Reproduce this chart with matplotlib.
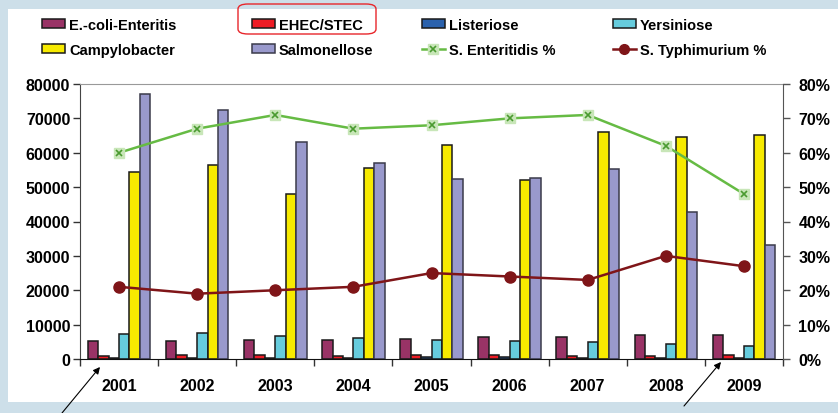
import matplotlib
matplotlib.use("Agg")
import matplotlib.pyplot as plt
import numpy as np
from matplotlib.patches import Rectangle, FancyBboxPatch, Patch
from matplotlib.lines import Line2D
from matplotlib.ticker import PercentFormatter, MultipleLocator

plt.rcParams['font.family'] = ['Liberation Sans', 'DejaVu Sans']
plt.rcParams['font.weight'] = 'bold'

years = ['2001', '2002', '2003', '2004', '2005', '2006', '2007', '2008', '2009']
ecoli = [5200, 5200, 5400, 5400, 5700, 6400, 6400, 6900, 6900]
ehec = [800, 1150, 1100, 900, 1200, 1200, 850, 900, 1200]
listeriose = [216, 240, 256, 296, 510, 508, 356, 307, 394]
yersiniose = [7200, 7500, 6700, 6100, 5400, 5200, 4900, 4300, 3800]
campylobacter = [54500, 56300, 47900, 55700, 62200, 52000, 65900, 64700, 65300]
salmonellose = [77200, 72300, 63000, 56900, 52300, 52700, 55300, 42800, 33100]
enteritidis_pct = [60, 67, 71, 67, 68, 70, 71, 62, 48]
typhimurium_pct = [21, 19, 20, 21, 25, 24, 23, 30, 27]

bar_series = [
    ('E.-coli-Enteritis', ecoli, '#993366', '#1a1a1a'),
    ('EHEC/STEC', ehec, '#ee1c25', '#1a1a1a'),
    ('Listeriose', listeriose, '#2b62ad', '#1a1a1a'),
    ('Yersiniose', yersiniose, '#66ccdd', '#1a1a1a'),
    ('Campylobacter', campylobacter, '#f7ea00', '#1a1a1a'),
    ('Salmonellose', salmonellose, '#9999cc', '#3a3a4a'),
]

W, H = 838, 414
fig = plt.figure(figsize=(W / 100, H / 100), dpi=100)
fig.patch.set_facecolor('#cddfe9')
fig.patches.append(Rectangle((8 / W, 11 / H), 1 - 8 / W, (403 - 10) / H,
                             transform=fig.transFigure, facecolor='white',
                             edgecolor='none', zorder=-5))

ax = fig.add_axes([80 / W, (H - 360) / H, (783 - 80) / W, (360 - 85) / H])
ax.set_facecolor('none')
x = np.arange(len(years))
bw = 0.8 / 6
handles = {}
for i, (name, vals, fc, ec) in enumerate(bar_series):
    ax.bar(x + (i - 2.5) * bw, vals, width=bw, color=fc, edgecolor=ec,
           linewidth=1.1, label=name, zorder=2)
    handles[name] = Patch(facecolor=fc, edgecolor=ec, linewidth=1.1)

ax.set_xlim(-0.5, len(years) - 0.5)
ax.set_ylim(0, 80000)
ax.yaxis.set_major_locator(MultipleLocator(10000))
ax.set_xticks(x)
ax.set_xticklabels(years)
ax.set_xticks(np.arange(-0.5, len(years), 1.0), minor=True)
ax.tick_params(axis='x', which='major', length=0, pad=14, labelsize=11.5)
ax.tick_params(axis='x', which='minor', length=5, width=1, color='#333333', direction='out')
ax.tick_params(axis='y', length=5, width=1, color='#333333', pad=2, labelsize=11.5)
for lab in ax.get_yticklabels() + ax.get_xticklabels():
    lab.set_fontweight('bold')
ax.spines['top'].set_color('#999999')
ax.spines['left'].set_color('#444444')
ax.spines['bottom'].set_color('#111111')
ax.spines['right'].set_visible(False)

ax2 = ax.twinx()
ax2.set_ylim(0, 80)
ax2.yaxis.set_major_locator(MultipleLocator(10))
ax2.yaxis.set_major_formatter(PercentFormatter(decimals=0))
ax2.tick_params(axis='y', length=5, width=1, color='#555555', pad=6, labelsize=11.5)
for lab in ax2.get_yticklabels():
    lab.set_fontweight('bold')
ax2.spines['right'].set_color('#555555')
ax2.spines['top'].set_visible(False)
ax2.spines['left'].set_visible(False)
ax2.spines['bottom'].set_visible(False)

green = '#66bb44'
ax2.plot(x, enteritidis_pct, color=green, linewidth=1.8, marker='s', markersize=7.5,
         markerfacecolor='#c8e6b8', markeredgecolor='#c8e6b8', zorder=3)
ax2.plot(x, enteritidis_pct, linestyle='none', marker='x', markersize=5,
         markeredgecolor='#4a9a30', markeredgewidth=1.2, zorder=4)
dark_red = '#7f1518'
ax2.plot(x, typhimurium_pct, color=dark_red, linewidth=1.8, marker='o', markersize=8,
         markerfacecolor=dark_red, markeredgecolor=dark_red, zorder=3)

handles['S. Enteritidis %'] = (Line2D([], [], color=green, linewidth=1.8, marker='s',
                                      markersize=7, markerfacecolor='#c8e6b8',
                                      markeredgecolor='#c8e6b8'),
                               Line2D([], [], linestyle='none', marker='x', markersize=4.5,
                                      markeredgecolor='#4a9a30', markeredgewidth=1.2))
handles['S. Typhimurium %'] = Line2D([], [], color=dark_red, linewidth=1.8, marker='o',
                                     markersize=7, markerfacecolor=dark_red,
                                     markeredgecolor=dark_red)

columns = [
    (42, ['E.-coli-Enteritis', 'Campylobacter']),
    (252, ['EHEC/STEC', 'Salmonellose']),
    (422, ['Listeriose', 'S. Enteritidis %']),
    (613, ['Yersiniose', 'S. Typhimurium %']),
]
for cx, names in columns:
    fig.legend([handles[n] for n in names], names, loc='upper left',
               bbox_to_anchor=(cx / W, (H - 19) / H), frameon=False,
               borderpad=0, borderaxespad=0, handlelength=1.55,
               handleheight=0.6, handletextpad=0.3, labelspacing=0.75,
               prop={'size': 10.5, 'weight': 'bold'})

fig.patches.append(FancyBboxPatch((238 / W, (H - 35) / H), 138 / W, 30 / H,
                                  boxstyle='round,pad=0,rounding_size=0.012',
                                  transform=fig.transFigure, facecolor='none',
                                  edgecolor='#e8262b', linewidth=1.0, zorder=5))

for tail, tip in [((62, 0), (100, 46)), ((684, 7), (721, 51))]:
    ax.annotate('', xy=tip, xycoords='figure pixels', xytext=tail,
                textcoords='figure pixels',
                arrowprops=dict(arrowstyle='-|>', color='black', lw=0.8,
                                mutation_scale=10, shrinkA=0, shrinkB=0),
                annotation_clip=False)

fig.savefig('out.png', dpi=100, facecolor=fig.get_facecolor())
